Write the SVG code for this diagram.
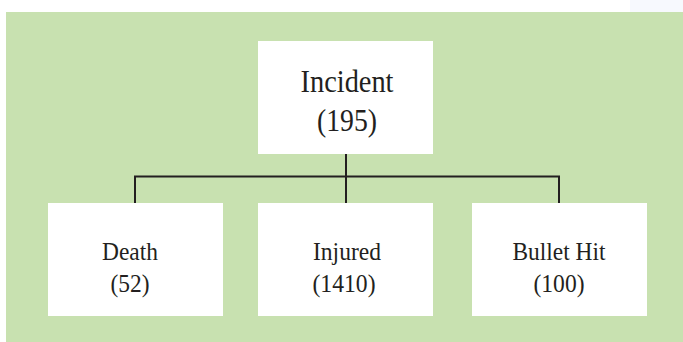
<svg xmlns="http://www.w3.org/2000/svg" width="683" height="342" viewBox="0 0 683 342">
<style>
.box{fill:#ffffff}
.big{font-family:"Liberation Serif","Times New Roman",serif;font-size:31px;fill:#231f20;text-anchor:middle}
.sm{font-family:"Liberation Serif","Times New Roman",serif;font-size:25px;fill:#231f20;text-anchor:middle}
.ln{stroke:#231f20;stroke-width:2;fill:none}
</style>
<rect x="0" y="0" width="683" height="342" fill="#ffffff"/>
<rect x="630" y="0" width="53" height="12" fill="#f7f9fe"/>
<rect x="6" y="12" width="677" height="330" fill="#c8e1b0"/>
<g id="connectors">
<path class="ln" d="M346 154V203M135 203V176.5H559V203"/>
</g>
<g id="incident">
<rect class="box" x="258" y="41" width="175" height="113"/>
<text class="big" x="347" y="92" textLength="93" lengthAdjust="spacingAndGlyphs">Incident</text>
<text class="big" x="347" y="131" textLength="60" lengthAdjust="spacingAndGlyphs">(195)</text>
</g>
<g id="death">
<rect class="box" x="48" y="203" width="175" height="113"/>
<text class="sm" x="130" y="260" textLength="56" lengthAdjust="spacingAndGlyphs">Death</text>
<text class="sm" x="130" y="292" textLength="39" lengthAdjust="spacingAndGlyphs">(52)</text>
</g>
<g id="injured">
<rect class="box" x="258" y="203" width="175" height="113"/>
<text class="sm" x="347" y="260" textLength="68" lengthAdjust="spacingAndGlyphs">Injured</text>
<text class="sm" x="344" y="292" textLength="63" lengthAdjust="spacingAndGlyphs">(1410)</text>
</g>
<g id="bullet">
<rect class="box" x="472" y="203" width="175" height="113"/>
<text class="sm" x="559" y="260" textLength="93" lengthAdjust="spacingAndGlyphs">Bullet Hit</text>
<text class="sm" x="559" y="292" textLength="51" lengthAdjust="spacingAndGlyphs">(100)</text>
</g>
</svg>
